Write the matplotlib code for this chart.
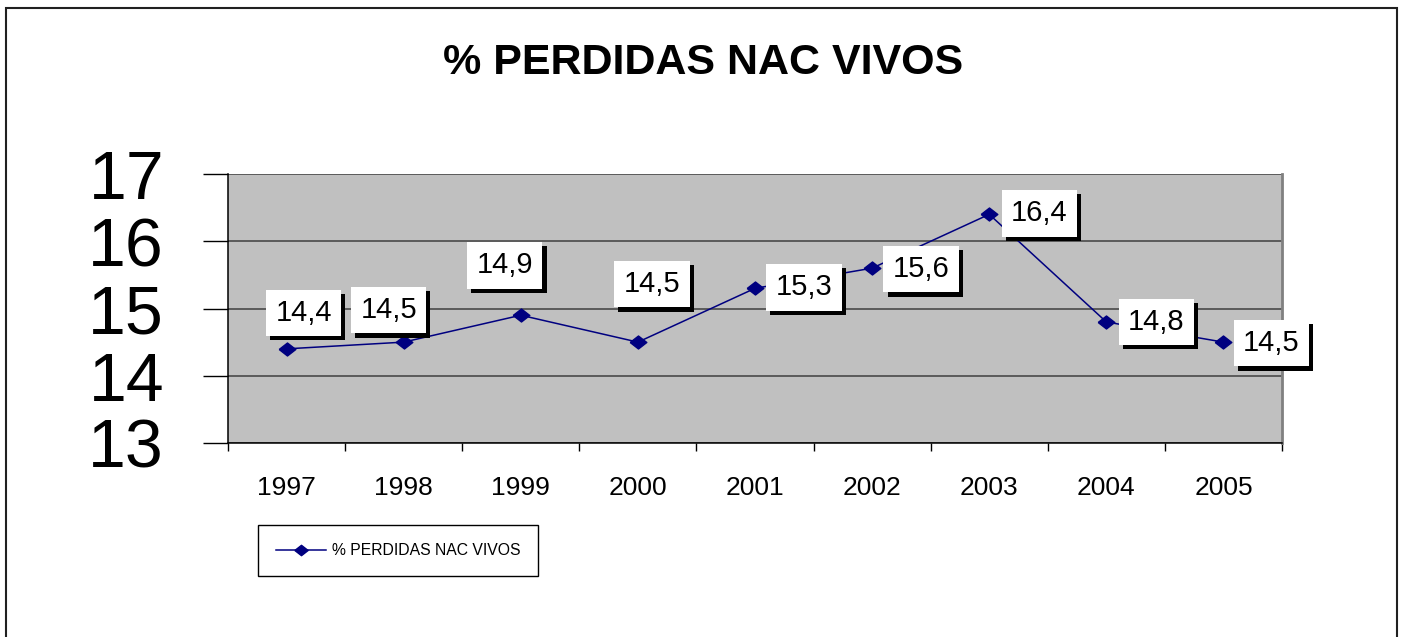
import numpy as np
import matplotlib
matplotlib.use("Agg")
import matplotlib.pyplot as plt
from matplotlib import patheffects
from matplotlib.patches import Rectangle

plt.rcParams['font.family'] = ['Liberation Sans', 'DejaVu Sans']

# datos
years = ['1997', '1998', '1999', '2000', '2001', '2002', '2003', '2004', '2005']
values = [14.4, 14.5, 14.9, 14.5, 15.3, 15.6, 16.4, 14.8, 14.5]
labels = ['14,4', '14,5', '14,9', '14,5', '15,3', '15,6', '16,4', '14,8', '14,5']
series_name = '% PERDIDAS NAC VIVOS'
# desplazamiento de etiquetas (pixeles)
label_dx = [17, -15, -16, 14, 49, 49, 50, 50, 48]
label_dy = [36, 32, 50, 58, 1, -1, 1, 0, -1]

fig = plt.figure(figsize=(14.04, 6.37), dpi=100)
W, H = 1404, 637

# marco exterior
fig.add_artist(Rectangle((6 / W, -0.1), (1397 - 6) / W, 1.1 - 8 / H,
                         transform=fig.transFigure, fill=False,
                         edgecolor='#202020', linewidth=1.5))

ax = fig.add_axes([228 / W, 1 - 443 / H, (1282 - 228) / W, (443 - 174) / H])
ax.set_facecolor('#C0C0C0')

x = np.arange(len(years))
diamond = [(-1, 0), (0, 0.78), (1, 0), (0, -0.78), (-1, 0)]
line, = ax.plot(x, values, color='#000080', linewidth=1.1,
                marker=diamond, markersize=12, label=series_name, zorder=3)

ax.set_xlim(-0.5, len(years) - 0.5)
ax.set_ylim(13, 17)
ax.set_yticks([13, 14, 15, 16, 17])
ax.yaxis.grid(True, color='#404040', linewidth=1.1)
ax.set_axisbelow(True)

ax.set_xticks(x)
ax.set_xticklabels(years)
ax.set_xticks(np.arange(-0.5, len(years)), minor=True)
ax.tick_params(axis='x', which='major', length=0, pad=24, labelsize=19)
ax.tick_params(axis='x', which='minor', length=6, width=1, color='black')
ax.tick_params(axis='y', length=18, width=1, color='black', pad=28, labelsize=49)

for s in ['left', 'bottom']:
    ax.spines[s].set_color('black')
    ax.spines[s].set_linewidth(1.1)
ax.spines['right'].set_color('#808080')
ax.spines['right'].set_linewidth(2)
ax.spines['top'].set_visible(False)

# etiquetas de datos con sombra
for i in range(len(years)):
    t = ax.annotate(labels[i], (x[i], values[i]),
                    xytext=(label_dx[i], label_dy[i]), textcoords='offset pixels',
                    ha='center', va='center', fontsize=21, zorder=5,
                    bbox=dict(boxstyle='square,pad=0.32', facecolor='white',
                              edgecolor='none'))
    t.get_bbox_patch().set_path_effects([
        patheffects.SimplePatchShadow(offset=(3, -3), shadow_rgbFace='black', alpha=1),
        patheffects.Normal()])

fig.text(0.501, 1 - 63 / H, series_name, ha='center', va='center',
         fontsize=31, fontweight='bold')

leg = fig.legend(handles=[line], loc='upper left',
                 bbox_to_anchor=(258 / W, 1 - 525 / H), borderaxespad=0,
                 fontsize=11.3, frameon=True, fancybox=False, framealpha=1,
                 edgecolor='black', borderpad=1.15, handlelength=3.2,
                 handletextpad=0.35, markerscale=0.8)
leg.get_frame().set_linewidth(1.0)

fig.savefig('out.png', dpi=100)
